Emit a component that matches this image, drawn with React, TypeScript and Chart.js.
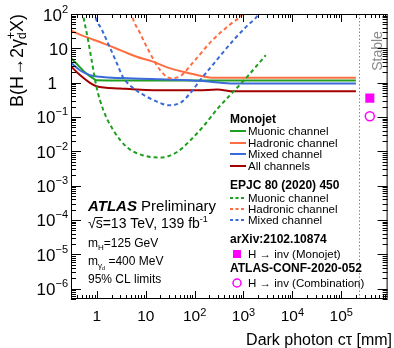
import React, { useEffect, useRef } from "react";
import { Chart, registerables } from "chart.js";

Chart.register(...registerables);

// ---------- data ----------
// Monojet (solid)
const monoMuonX = [0.28, 0.38, 0.61, 0.84, 0.98, 3, 10, 100, 1000, 1e4, 1e5, 2.0e5];
const monoMuonY = [5.6, 3.6, 1.85, 1.33, 1.18, 1.16, 1.16, 1.16, 1.16, 1.16, 1.16, 1.16];
const monoHadX = [0.28, 0.45, 1.35, 3, 6.5, 14, 32, 82, 200, 250, 1000, 1e4, 1e5, 2.0e5];
const monoHadY = [34, 25, 14, 8.9, 5.7, 4.1, 2.6, 1.85, 1.42, 1.38, 1.38, 1.38, 1.38, 1.38];
const monoMixX = [0.28, 0.45, 0.72, 1.15, 20, 131, 545, 1e4, 1e5, 2.0e5];
const monoMixY = [4.05, 2.3, 1.66, 1.48, 1.26, 1.13, 0.95, 0.95, 0.95, 0.95];
const monoAllX = [0.28, 0.45, 0.72, 0.98, 3, 20, 120, 290, 640, 1e4, 1e5, 2.0e5];
const monoAllY = [3.2, 1.66, 0.99, 0.79, 0.68, 0.6, 0.6, 0.63, 0.56, 0.56, 0.56, 0.56];

// EPJC 80 (2020) 450 (dashed)
const epjcMuonX = [0.5, 0.52, 0.66, 0.78, 0.98, 1.35, 2.17, 4.1, 8.9, 20, 43, 82, 153, 290, 545, 1200, 2850];
const epjcMuonY = [125, 93, 17.4, 4.5, 0.76, 0.16, 0.041, 0.0133, 0.0076, 0.0066, 0.0094, 0.021, 0.055, 0.17, 0.45, 1.5, 6.3];
const epjcHadX = [5.0, 5.2, 7.7, 12.3, 19.8, 32, 51, 94.5, 232, 545, 963, 1050];
const epjcHadY = [125, 93, 27, 7.1, 2.3, 1.35, 1.55, 4.0, 17.4, 51, 100, 125];
const epjcMixX = [0.88, 0.91, 1.25, 1.85, 2.6, 3.4, 5.6, 10.5, 18, 29, 51, 82, 131, 247, 640, 1200, 1940, 2200];
const epjcMixY = [125, 93, 36, 10.5, 3.5, 1.47, 0.68, 0.39, 0.27, 0.22, 0.26, 0.5, 1.2, 3.6, 18, 46, 90, 130];

// H -> inv points (stable region)
const invX = [3.85e5];
const invMonojetY = [0.355];
const invCombY = [0.105];
const stableX = 2.36e5;

// axes
const xMin = 0.295;
const xMax = 8.9e5;
const yMin = 5e-7;
const yMax = 100;
const yTickExps = [2, 1, 0, -1, -2, -3, -4, -5, -6];
const xTickExps = [0, 1, 2, 3, 4, 5];

// colours
const GREEN = "#1f9e1f";
const ORANGE = "#ff6e42";
const BLUE = "#3a6bd8";
const DRED = "#a50000";
const MAGENTA = "#ff00ff";

const FONT = '"Liberation Sans", Arial, Helvetica, sans-serif';

type Seg = { t: string; s: number; dy?: number; b?: boolean; i?: boolean; stack?: boolean };

function setFont(ctx: CanvasRenderingContext2D, g: Seg) {
  ctx.font = `${g.i ? "italic " : ""}${g.b ? "bold " : ""}${g.s}px ${FONT}`;
}
function segWidth(ctx: CanvasRenderingContext2D, segs: Seg[]) {
  let w = 0;
  for (const g of segs) {
    setFont(ctx, g);
    if (!g.stack) w += ctx.measureText(g.t).width;
  }
  return w;
}
function drawSegs(
  ctx: CanvasRenderingContext2D,
  x: number,
  y: number,
  segs: Seg[],
  align: "left" | "right" | "center" = "left"
) {
  const w = segWidth(ctx, segs);
  let cx = align === "left" ? x : align === "right" ? x - w : x - w / 2;
  ctx.textAlign = "left";
  ctx.textBaseline = "alphabetic";
  for (const g of segs) {
    setFont(ctx, g);
    ctx.fillText(g.t, cx, y + (g.dy || 0));
    if (!g.stack) cx += ctx.measureText(g.t).width;
  }
  return w;
}

function expLabel(e: number, base: number, sup: number, supDy: number): Seg[] {
  if (e === 0) return [{ t: "1", s: base }];
  if (e === 1) return [{ t: "10", s: base }];
  return [
    { t: "10", s: base },
    { t: e < 0 ? "\u2212" + -e : String(e), s: sup, dy: supDy },
  ];
}

const pts = (xs: number[], ys: number[]) => xs.map((x, i) => ({ x, y: ys[i] }));

const decor = {
  id: "atlasDecor",
  afterDraw(chart: any) {
    const ctx: CanvasRenderingContext2D = chart.ctx;
    const { left, right, top, bottom } = chart.chartArea;
    const xs = chart.scales.x;
    const ys = chart.scales.y;
    ctx.save();

    // stable separator
    const sx = Math.round(xs.getPixelForValue(stableX)) + 0.5;
    ctx.strokeStyle = "#8a8a8a";
    ctx.lineWidth = 1;
    ctx.setLineDash([1.5, 2]);
    ctx.beginPath();
    ctx.moveTo(sx, top);
    ctx.lineTo(sx, bottom);
    ctx.stroke();
    ctx.setLineDash([]);

    ctx.save();
    ctx.translate(382, 51);
    ctx.rotate(-Math.PI / 2);
    ctx.fillStyle = "#8a8a8a";
    drawSegs(ctx, 0, 0, [{ t: "Stable", s: 14 }], "center");
    ctx.restore();

    // frame
    ctx.strokeStyle = "#000";
    ctx.lineWidth = 1;
    ctx.strokeRect(left + 0.5, top + 0.5, right - left - 1, bottom - top - 1);

    // ticks
    ctx.beginPath();
    for (let e = Math.floor(Math.log10(xMin)); e <= Math.ceil(Math.log10(xMax)); e++) {
      for (let k = 1; k <= 9; k++) {
        const v = k * Math.pow(10, e);
        if (v < xMin || v > xMax) continue;
        const p = Math.round(xs.getPixelForValue(v)) + 0.5;
        const len = k === 1 ? 8 : 4;
        ctx.moveTo(p, bottom);
        ctx.lineTo(p, bottom - len);
        ctx.moveTo(p, top);
        ctx.lineTo(p, top + len);
      }
    }
    for (let e = Math.floor(Math.log10(yMin)); e <= Math.ceil(Math.log10(yMax)); e++) {
      for (let k = 1; k <= 9; k++) {
        const v = k * Math.pow(10, e);
        if (v < yMin || v > yMax * 1.0001) continue;
        const p = Math.round(ys.getPixelForValue(v)) + 0.5;
        const len = k === 1 ? 10 : 5;
        ctx.moveTo(left, p);
        ctx.lineTo(left + len, p);
        ctx.moveTo(right, p);
        ctx.lineTo(right - len, p);
      }
    }
    ctx.stroke();

    ctx.fillStyle = "#000";
    // y tick labels
    for (const e of yTickExps) {
      const p = ys.getPixelForValue(Math.pow(10, e));
      const segs = expLabel(e, 17, 11, -8);
      drawSegs(ctx, e === 0 ? 57 : 68, p + 6.5, segs, "right");
    }
    // x tick labels
    for (const e of xTickExps) {
      const p = xs.getPixelForValue(Math.pow(10, e));
      const segs = expLabel(e, 15.5, 11, -5.5);
      drawSegs(ctx, p, 321, segs, "center");
    }

    // axis titles
    drawSegs(ctx, 392, 345, [{ t: "Dark photon c\u03c4 [mm]", s: 16 }], "right");
    ctx.save();
    ctx.translate(23, 14);
    ctx.rotate(-Math.PI / 2);
    drawSegs(
      ctx,
      0,
      0,
      [
        { t: "B(H\u21922\u03b3", s: 18 },
        { t: "d", s: 12, dy: 3, stack: true },
        { t: "+", s: 12, dy: -8 },
        { t: "X)", s: 18 },
      ],
      "right"
    );
    ctx.restore();

    // ATLAS label block
    drawSegs(ctx, 88, 211, [
      { t: "ATLAS", s: 15, b: true, i: true },
      { t: " Preliminary", s: 15 },
    ]);
    const rootW = segWidth(ctx, [{ t: "\u221a", s: 14 }]);
    drawSegs(ctx, 88, 228, [
      { t: "\u221a", s: 14 },
      { t: "s=13 TeV, 139 fb", s: 14 },
      { t: "-1", s: 9, dy: -6 },
    ]);
    const sW = segWidth(ctx, [{ t: "s", s: 14 }]);
    ctx.beginPath();
    ctx.moveTo(88 + rootW - 0.5, 217.5);
    ctx.lineTo(88 + rootW + sW, 217.5);
    ctx.stroke();
    drawSegs(ctx, 88, 247, [
      { t: "m", s: 12 },
      { t: "H", s: 8, dy: 3 },
      { t: "=125 GeV", s: 12 },
    ]);
    drawSegs(ctx, 88, 265, [
      { t: "m", s: 12 },
      { t: "\u03b3", s: 8, dy: 3 },
      { t: "d", s: 5.5, dy: 5 },
      { t: " =400 MeV", s: 12 },
    ]);
    drawSegs(ctx, 88, 283, [{ t: "95% CL limits", s: 12 }]);

    // legend
    const hx = 230;
    const tx = 248;
    const sample = (y: number, color: string, dashed: boolean) => {
      ctx.strokeStyle = color;
      ctx.lineWidth = 2;
      ctx.setLineDash(dashed ? [3, 2.5] : []);
      ctx.beginPath();
      ctx.moveTo(hx, y - 4);
      ctx.lineTo(hx + 16, y - 4);
      ctx.stroke();
      ctx.setLineDash([]);
    };
    ctx.fillStyle = "#000";
    drawSegs(ctx, hx, 123, [{ t: "Monojet", s: 12, b: true }]);
    const solidEntries: [string, string, number][] = [
      ["Muonic channel", GREEN, 135],
      ["Hadronic channel", ORANGE, 147],
      ["Mixed channel", BLUE, 158],
      ["All channels", DRED, 170],
    ];
    for (const [t, c, y] of solidEntries) {
      sample(y, c, false);
      ctx.fillStyle = "#000";
      drawSegs(ctx, tx, y, [{ t, s: 11.5 }]);
    }
    drawSegs(ctx, hx, 189, [{ t: "EPJC 80 (2020) 450", s: 12, b: true }]);
    const dashEntries: [string, string, number][] = [
      ["Muonic channel", GREEN, 202],
      ["Hadronic channel", ORANGE, 213],
      ["Mixed channel", BLUE, 224],
    ];
    for (const [t, c, y] of dashEntries) {
      sample(y, c, true);
      ctx.fillStyle = "#000";
      drawSegs(ctx, tx, y, [{ t, s: 11.5 }]);
    }
    drawSegs(ctx, hx, 243, [{ t: "arXiv:2102.10874", s: 12, b: true }]);
    ctx.fillStyle = MAGENTA;
    ctx.fillRect(233, 250, 8, 8);
    ctx.fillStyle = "#000";
    drawSegs(ctx, tx, 258, [{ t: "H \u2192 inv (Monojet)", s: 11.5 }]);
    drawSegs(ctx, hx, 272, [{ t: "ATLAS-CONF-2020-052", s: 12, b: true }]);
    ctx.strokeStyle = MAGENTA;
    ctx.lineWidth = 1.5;
    ctx.beginPath();
    ctx.arc(237, 283, 4, 0, Math.PI * 2);
    ctx.stroke();
    ctx.fillStyle = "#000";
    drawSegs(ctx, tx, 287, [{ t: "H \u2192 inv (Combination)", s: 11.5 }]);

    ctx.restore();
  },
};

function lineDs(label: string, xs: number[], ys: number[], color: string, dashed: boolean) {
  return {
    label,
    data: pts(xs, ys),
    showLine: true,
    borderColor: color,
    backgroundColor: color,
    borderWidth: 2,
    borderDash: dashed ? [4, 3] : [],
    pointRadius: 0,
    cubicInterpolationMode: "monotone" as const,
    fill: false,
  };
}

export default function App() {
  const ref = useRef<HTMLCanvasElement | null>(null);
  useEffect(() => {
    document.body.style.margin = "0";
    const canvas = ref.current;
    if (!canvas) return;
    const chart = new Chart(canvas, {
      type: "scatter",
      data: {
        datasets: [
          lineDs("EPJC Muonic", epjcMuonX, epjcMuonY, GREEN, true),
          lineDs("EPJC Hadronic", epjcHadX, epjcHadY, ORANGE, true),
          lineDs("EPJC Mixed", epjcMixX, epjcMixY, BLUE, true),
          lineDs("Monojet Hadronic", monoHadX, monoHadY, ORANGE, false),
          lineDs("Monojet Mixed", monoMixX, monoMixY, BLUE, false),
          lineDs("Monojet Muonic", monoMuonX, monoMuonY, GREEN, false),
          lineDs("Monojet All", monoAllX, monoAllY, DRED, false),
          {
            label: "H->inv (Monojet)",
            data: pts(invX, invMonojetY),
            showLine: false,
            pointStyle: "rect",
            pointRadius: 6.4,
            backgroundColor: MAGENTA,
            borderColor: MAGENTA,
            borderWidth: 0,
          },
          {
            label: "H->inv (Combination)",
            data: pts(invX, invCombY),
            showLine: false,
            pointStyle: "circle",
            pointRadius: 4.5,
            backgroundColor: "rgba(0,0,0,0)",
            borderColor: MAGENTA,
            borderWidth: 1.5,
          },
        ],
      },
      options: {
        animation: false,
        responsive: false,
        devicePixelRatio: 1,
        events: [],
        layout: { padding: { left: 71, right: 2, top: 14, bottom: 49 } },
        plugins: { legend: { display: false }, tooltip: { enabled: false } },
        scales: {
          x: { type: "logarithmic", min: xMin, max: xMax, display: false },
          y: { type: "logarithmic", min: yMin, max: yMax, display: false },
        },
      },
      plugins: [decor],
    });
    return () => chart.destroy();
  }, []);
  return (
    <div style={{ width: 394, height: 348 }}>
      <canvas ref={ref} width={394} height={348} style={{ display: "block" }} />
    </div>
  );
}
